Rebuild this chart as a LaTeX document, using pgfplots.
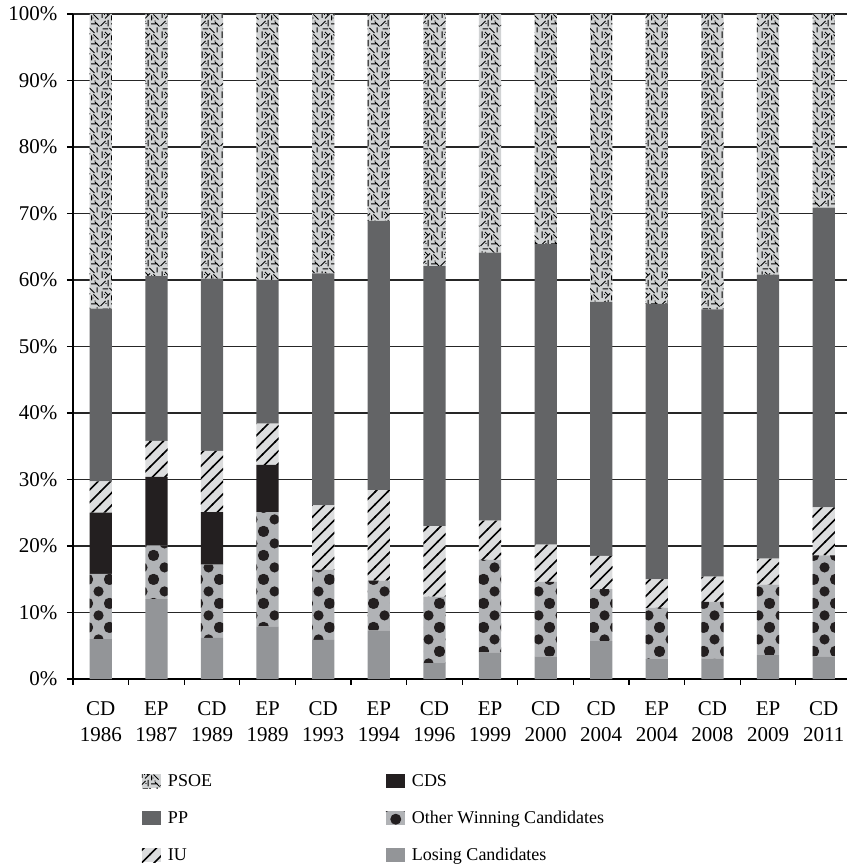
\documentclass[border=0pt]{standalone}
\usepackage{fontspec}
\setmainfont{Liberation Serif}
\usepackage{pgfplots}
\pgfplotsset{compat=1.18}
\usetikzlibrary{patterns}

\definecolor{psoebg}{HTML}{D1D3D4}
\definecolor{ppc}{HTML}{636466}
\definecolor{iubg}{HTML}{DCDDDE}
\definecolor{cdsc}{HTML}{231F20}
\definecolor{otherbg}{HTML}{B1B3B6}
\definecolor{losec}{HTML}{939598}

\pgfdeclarepatternformonly{psoe}{\pgfqpoint{-1pt}{-1pt}}{\pgfqpoint{21pt}{21pt}}{\pgfqpoint{20pt}{20pt}}{
  \pgfsetlinewidth{1pt}
  \pgfpathmoveto{\pgfqpoint{0.5pt}{1pt}}\pgfpathlineto{\pgfqpoint{5.5pt}{6pt}}
  \pgfpathmoveto{\pgfqpoint{8pt}{0.5pt}}\pgfpathlineto{\pgfqpoint{8pt}{7pt}}
  \pgfpathmoveto{\pgfqpoint{11pt}{3pt}}\pgfpathlineto{\pgfqpoint{17.5pt}{3pt}}
  \pgfpathmoveto{\pgfqpoint{2pt}{9pt}}\pgfpathlineto{\pgfqpoint{2pt}{15.5pt}}
  \pgfpathmoveto{\pgfqpoint{5pt}{8.5pt}}\pgfpathlineto{\pgfqpoint{10pt}{13.5pt}}
  \pgfpathmoveto{\pgfqpoint{13.5pt}{12.5pt}}\pgfpathlineto{\pgfqpoint{18.5pt}{7.5pt}}
  \pgfpathmoveto{\pgfqpoint{9.5pt}{19pt}}\pgfpathlineto{\pgfqpoint{14.5pt}{14pt}}
  \pgfpathmoveto{\pgfqpoint{17pt}{14.5pt}}\pgfpathlineto{\pgfqpoint{17pt}{19.5pt}}
  \pgfpathmoveto{\pgfqpoint{2.5pt}{18pt}}\pgfpathlineto{\pgfqpoint{8pt}{18pt}}
  \pgfpathmoveto{\pgfqpoint{19.5pt}{0.5pt}}\pgfpathlineto{\pgfqpoint{15pt}{5pt}}
  \pgfpathmoveto{\pgfqpoint{11.5pt}{6.5pt}}\pgfpathlineto{\pgfqpoint{11.5pt}{11.5pt}}
  \pgfpathmoveto{\pgfqpoint{5pt}{15pt}}\pgfpathlineto{\pgfqpoint{8.5pt}{11.5pt}}
  \pgfusepath{stroke}
  \pgfpathcircle{\pgfqpoint{13pt}{9pt}}{0.55pt}
  \pgfpathcircle{\pgfqpoint{4.5pt}{12.5pt}}{0.55pt}
  \pgfpathcircle{\pgfqpoint{15pt}{6pt}}{0.55pt}
  \pgfpathcircle{\pgfqpoint{6pt}{3.5pt}}{0.55pt}
  \pgfusepath{fill}
}

\pgfdeclarepatternformonly{bigdots}{\pgfqpoint{0pt}{0pt}}{\pgfqpoint{22pt}{24pt}}{\pgfqpoint{22pt}{24pt}}{
  \pgfpathcircle{\pgfqpoint{0pt}{0pt}}{5.3pt}
  \pgfpathcircle{\pgfqpoint{22pt}{0pt}}{5.3pt}
  \pgfpathcircle{\pgfqpoint{0pt}{24pt}}{5.3pt}
  \pgfpathcircle{\pgfqpoint{22pt}{24pt}}{5.3pt}
  \pgfpathcircle{\pgfqpoint{11pt}{12pt}}{5.3pt}
  \pgfusepath{fill}
}

\pgfdeclarepatternformonly{iulines}{\pgfqpoint{-1pt}{-1pt}}{\pgfqpoint{13.5pt}{13.5pt}}{\pgfqpoint{12.5pt}{12.5pt}}{
  \pgfsetlinewidth{1.5pt}
  \pgfpathmoveto{\pgfqpoint{-1pt}{-1pt}}
  \pgfpathlineto{\pgfqpoint{13.5pt}{13.5pt}}
  \pgfusepath{stroke}
}

\tikzset{
  psoestyle/.style={fill=psoebg, draw=none, postaction={pattern=psoe, pattern color=black}},
  ppstyle/.style={fill=ppc, draw=none},
  iustyle/.style={fill=iubg, draw=none, postaction={pattern=iulines, pattern color=black}},
  cdsstyle/.style={fill=cdsc, draw=none},
  otherstyle/.style={fill=otherbg, draw=none, postaction={pattern=bigdots, pattern color=cdsc}},
  losestyle/.style={fill=losec, draw=none},
}

\begin{document}
\begin{tikzpicture}
\begin{axis}[
  scale only axis, width=774pt, height=665pt,
  ybar stacked, bar width=0.4,
  xmin=-0.5, xmax=13.42, ymin=0, ymax=100,
  axis x line*=bottom, axis y line*=left,
  axis line style={line width=1.2pt, black},
  tick align=outside, major tick length=6pt,
  tick style={line width=1.2pt, black},
  xtick={0,...,13},
  xticklabels={{CD\\1986},{EP\\1987},{CD\\1989},{EP\\1989},{CD\\1993},{EP\\1994},{CD\\1996},{EP\\1999},{CD\\2000},{CD\\2004},{EP\\2004},{CD\\2008},{EP\\2009},{CD\\2011}},
  major x tick style={draw=none},
  minor xtick={-0.5,0.5,...,12.5},
  minor tick length=6pt,
  xticklabel style={align=center, font=\fontsize{21}{26}\selectfont, yshift=-13pt},
  ytick={0,10,...,100},
  yticklabels={0\%,10\%,20\%,30\%,40\%,50\%,60\%,70\%,80\%,90\%,100\%},
  yticklabel style={font=\fontsize{21}{25}\selectfont, xshift=-6pt},
  ymajorgrids,
  grid style={line width=1.2pt, black!85},
  legend columns=2,
  legend cell align=left,
  legend style={at={(axis description cs:0.085,-0.1375)}, anchor=north west, draw=none, fill=none,
    font=\fontsize{18}{21}\selectfont, row sep=19pt},
  legend image code/.code={\draw[#1,draw=none] (0pt,-7pt) rectangle (19pt,7pt);},
]
\addplot[losestyle, forget plot] coordinates {(0,6.0) (1,12.0) (2,6.2) (3,7.9) (4,5.9) (5,7.3) (6,2.4) (7,4.0) (8,3.4) (9,5.7) (10,3.0) (11,3.1) (12,3.6) (13,3.4)};
\addplot[otherstyle, forget plot] coordinates {(0,9.8) (1,8.1) (2,11.0) (3,17.2) (4,10.5) (5,7.5) (6,10.0) (7,13.9) (8,11.2) (9,7.8) (10,7.7) (11,8.5) (12,10.6) (13,15.2)};
\addplot[cdsstyle, forget plot] coordinates {(0,9.2) (1,10.3) (2,7.9) (3,7.1) (4,0) (5,0) (6,0) (7,0) (8,0) (9,0) (10,0) (11,0) (12,0) (13,0)};
\addplot[iustyle, forget plot] coordinates {(0,4.7) (1,5.4) (2,9.2) (3,6.2) (4,9.7) (5,13.6) (6,10.6) (7,5.9) (8,5.6) (9,5.0) (10,4.3) (11,3.8) (12,3.9) (13,7.2)};
\addplot[ppstyle, forget plot] coordinates {(0,26.0) (1,24.8) (2,25.9) (3,21.6) (4,34.9) (5,40.5) (6,39.1) (7,40.3) (8,45.2) (9,38.2) (10,41.4) (11,40.2) (12,42.7) (13,45.1)};
\addplot[psoestyle, forget plot] coordinates {(0,44.3) (1,39.4) (2,39.8) (3,40.0) (4,39.0) (5,31.1) (6,37.9) (7,35.9) (8,34.6) (9,43.3) (10,43.6) (11,44.4) (12,39.2) (13,29.1)};

\addlegendimage{psoestyle}\addlegendentry{\makebox[221pt][l]{\hspace*{5pt}PSOE}}
\addlegendimage{cdsstyle}\addlegendentry{\hspace*{5pt}CDS}
\addlegendimage{ppstyle}\addlegendentry{\makebox[221pt][l]{\hspace*{5pt}PP}}
\addlegendimage{otherstyle}\addlegendentry{\hspace*{5pt}Other Winning Candidates}
\addlegendimage{iustyle}\addlegendentry{\makebox[221pt][l]{\hspace*{5pt}IU}}
\addlegendimage{losestyle}\addlegendentry{\hspace*{5pt}Losing Candidates}
\end{axis}
\pgfresetboundingbox
\path (-73pt,-188pt) rectangle (774pt,679pt);
\end{tikzpicture}
\end{document}
